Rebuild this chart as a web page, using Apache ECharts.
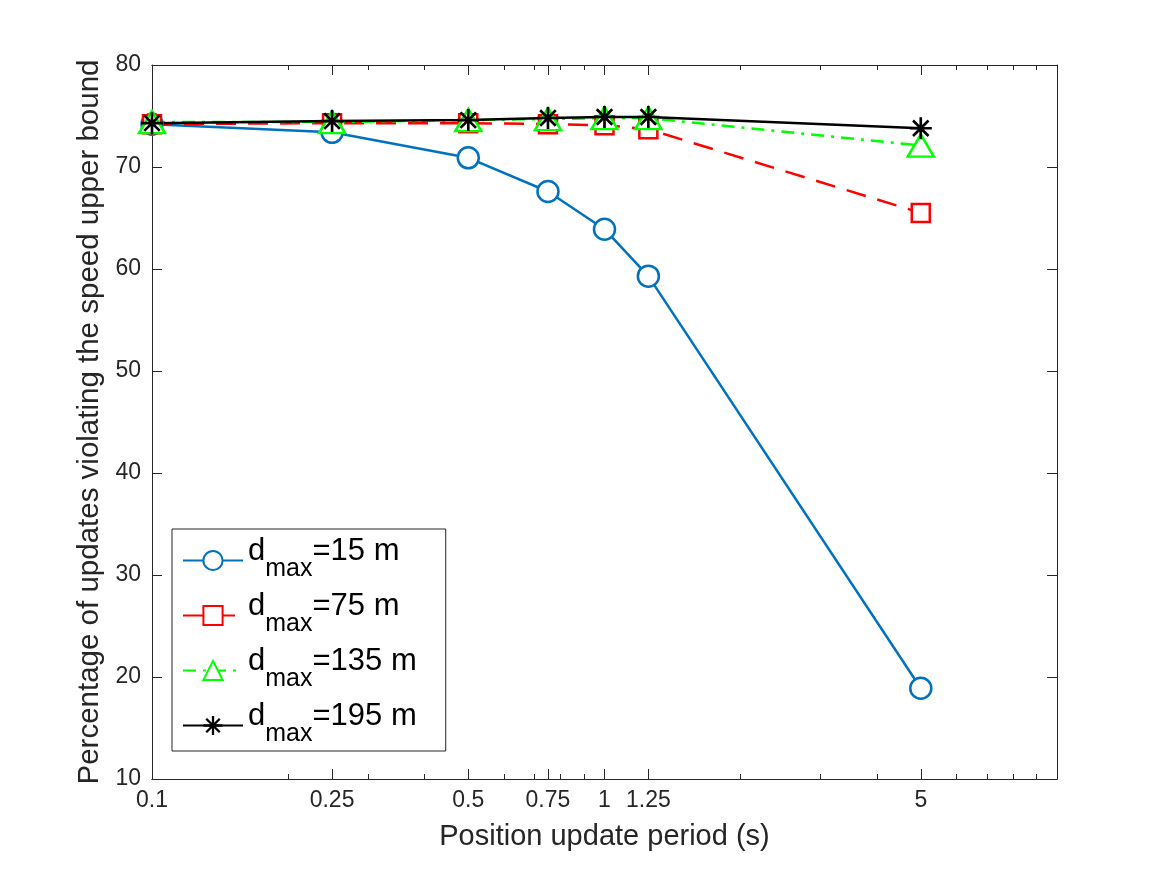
<!DOCTYPE html>
<html>
<head>
<meta charset="utf-8">
<title>speed upper bound</title>
<script src="https://cdn.jsdelivr.net/npm/echarts@6/dist/echarts.min.js"></script>
<style>
  html, body { margin: 0; padding: 0; background: #fff; }
  #chart { width: 1167px; height: 875px; }
</style>
</head>
<body>
<div id="chart"></div>
<script>
  // values
  const periods = [0.1, 0.25, 0.5, 0.75, 1, 1.25, 5]
  const dmax15 = [74.2, 73.4, 70.9, 67.6, 63.9, 59.3, 18.9]
  const dmax75 = [74.2, 74.3, 74.3, 74.2, 74.1, 73.7, 65.5]
  const dmax135 = [74.4, 74.4, 74.6, 74.7, 74.8, 74.8, 72.1]
  const dmax195 = [74.3, 74.5, 74.6, 74.8, 74.9, 74.9, 73.8]
  const seriesNames = ['15 m', '75 m', '135 m', '195 m']

  const majorTicks = [0.1, 0.25, 0.5, 0.75, 1, 1.25, 5]
  const minorTicks = [0.2, 0.3, 0.4, 0.6, 0.7, 0.8, 0.9, 2, 3, 4, 6, 7, 8, 9]

  const axisColor = '#262626'
  const font = 'Liberation Sans, Arial, Helvetica, sans-serif'

  // asterisk marker (vertical, horizontal and two diagonals)
  const asterisk = 'path://M8.8 0L11.2 0L11.2 20L8.8 20Z M0 8.8L20 8.8L20 11.2L0 11.2Z ' +
    'M3.8 2.1L17.9 16.2L16.2 17.9L2.1 3.8Z M17.9 3.8L3.8 17.9L2.1 16.2L16.2 2.1Z'

  const pairs = vals => periods.map((p, i) => [p, vals[i]])

  const chart = echarts.init(document.getElementById('chart'), null, { renderer: 'canvas' })

  const xBase = {
    type: 'log',
    logBase: 10,
    min: 0.1,
    max: 10,
    axisLine: { show: true, onZero: false, lineStyle: { color: axisColor, width: 1 } },
    splitLine: { show: false },
    minorTick: { show: false }
  }
  const yBase = {
    type: 'value',
    min: 10,
    max: 80,
    interval: 10,
    axisLine: { show: true, onZero: false, lineStyle: { color: axisColor, width: 1 } },
    splitLine: { show: false }
  }

  const lineSeries = (name, data, color, lineType, symbol, size) => ({
    name: name,
    type: 'line',
    data: data,
    symbol: symbol,
    symbolSize: size,
    showSymbol: true,
    animation: false,
    lineStyle: { color: color, width: 2.5, type: lineType },
    itemStyle: symbol === asterisk
      ? { color: color, borderWidth: 0 }
      : { color: '#fff', borderColor: color, borderWidth: 2.5 }
  })

  chart.setOption({
    backgroundColor: '#fff',
    animation: false,
    textStyle: { fontFamily: font },
    grid: { left: 152, right: 110, top: 65, bottom: 96 },
    xAxis: [
      Object.assign({}, xBase, {
        position: 'bottom',
        name: 'Position update period (s)',
        nameLocation: 'middle',
        nameGap: 43,
        nameTextStyle: { fontSize: 29, color: axisColor, fontFamily: font },
        axisTick: { show: true, inside: true, length: 10, customValues: majorTicks, lineStyle: { color: axisColor } },
        axisLabel: { show: true, customValues: majorTicks, fontSize: 23, color: axisColor, margin: 10, fontFamily: font,
          formatter: v => String(v) }
      }),
      Object.assign({}, xBase, {
        position: 'bottom',
        axisTick: { show: true, inside: true, length: 5, customValues: minorTicks, lineStyle: { color: axisColor } },
        axisLabel: { show: false }
      }),
      Object.assign({}, xBase, {
        position: 'top',
        axisTick: { show: true, inside: true, length: 10, customValues: majorTicks, lineStyle: { color: axisColor } },
        axisLabel: { show: false }
      }),
      Object.assign({}, xBase, {
        position: 'top',
        axisTick: { show: true, inside: true, length: 5, customValues: minorTicks, lineStyle: { color: axisColor } },
        axisLabel: { show: false }
      })
    ],
    yAxis: [
      Object.assign({}, yBase, {
        position: 'left',
        name: 'Percentage of updates violating the speed upper bound',
        nameLocation: 'middle',
        nameGap: 42,
        nameTextStyle: { fontSize: 29.5, color: axisColor, fontFamily: font },
        axisTick: { show: true, inside: true, length: 10, lineStyle: { color: axisColor } },
        axisLabel: { fontSize: 23, color: axisColor, margin: 11, fontFamily: font }
      }),
      Object.assign({}, yBase, {
        position: 'right',
        axisTick: { show: true, inside: true, length: 10, lineStyle: { color: axisColor } },
        axisLabel: { show: false }
      })
    ],
    legend: {
      orient: 'vertical',
      left: 172,
      top: 529,
      padding: [7, 29, 4, 10],
      itemGap: 9,
      itemWidth: 60,
      itemHeight: 24,
      backgroundColor: '#fff',
      borderColor: axisColor,
      borderWidth: 1,
      borderRadius: 0,
      data: seriesNames,
      formatter: name => '{a|d}{b|max}{a|=' + name + '}',
      textStyle: {
        color: '#000',
        fontFamily: font,
        rich: {
          a: { fontSize: 31, color: '#000', fontFamily: font, padding: [0, 0, 18, 0] },
          b: { fontSize: 25, color: '#000', fontFamily: font, padding: [18, 0, 0, 0] }
        }
      }
    },
    series: [
      lineSeries(seriesNames[0], pairs(dmax15), '#0072BD', 'solid', 'circle', 21),
      lineSeries(seriesNames[1], pairs(dmax75), '#FF0000', [20, 12], 'rect', 18),
      lineSeries(seriesNames[2], pairs(dmax135), '#00FF00', [13, 7, 3, 7], 'triangle', [26, 22]),
      lineSeries(seriesNames[3], pairs(dmax195), '#000000', 'solid', asterisk, 22)
    ]
  })
</script>
</body>
</html>
